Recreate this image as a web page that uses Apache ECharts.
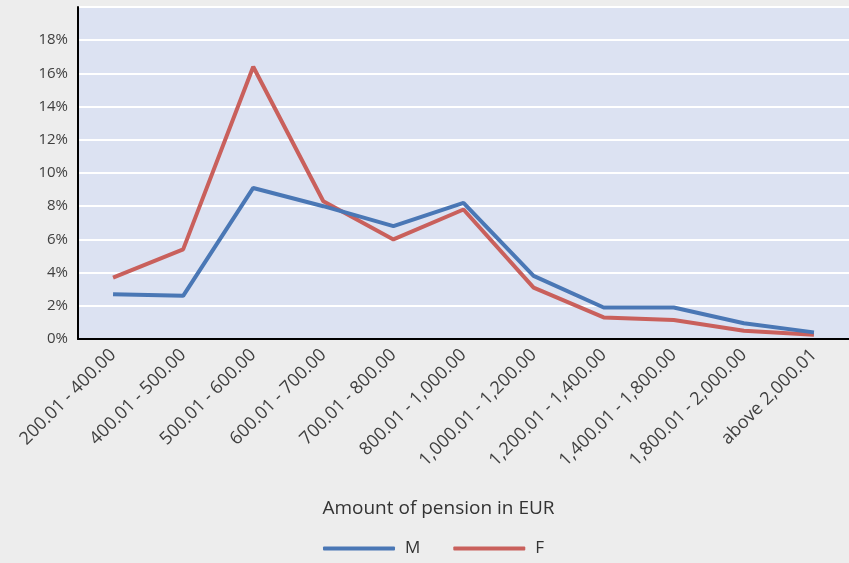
<!DOCTYPE html>
<html>
<head>
<meta charset="utf-8">
<script src="https://cdn.jsdelivr.net/npm/echarts@6/dist/echarts.min.js"></script>
<style>
  html, body { margin: 0; padding: 0; background: #ededed; }
  #chart { width: 849px; height: 563px; }
</style>
</head>
<body>
<div id="chart"></div>
<script>
const categories = ['200.01 - 400.00', '400.01 - 500.00', '500.01 - 600.00', '600.01 - 700.00',
  '700.01 - 800.00', '800.01 - 1,000.00', '1,000.01 - 1,200.00', '1,200.01 - 1,400.00',
  '1,400.01 - 1,800.00', '1,800.01 - 2,000.00', 'above 2,000.01']
const male = [2.7, 2.6, 9.1, 8.0, 6.8, 8.2, 3.8, 1.9, 1.9, 0.95, 0.4]
const female = [3.7, 5.4, 16.4, 8.3, 6.0, 7.8, 3.1, 1.3, 1.15, 0.5, 0.25]

const font = 'Open Sans'
const chart = echarts.init(document.getElementById('chart'))
chart.setOption({
  backgroundColor: '#ededed',
  animation: false,
  color: ['#4a77b5', '#c9605c'],
  grid: {
    left: 78, right: 0, top: 7, bottom: 224,
    show: true, backgroundColor: '#dce2f2', borderWidth: 0,
  },
  legend: {
    bottom: 1,
    left: 318,
    itemWidth: 72,
    itemHeight: 4,
    itemGap: 33,
    icon: 'roundRect',
    textStyle: { fontFamily: font, fontSize: 17, color: '#333', padding: [0, 0, 0, 5] },
    data: ['M', 'F'],
  },
  xAxis: {
    type: 'category',
    data: categories,
    boundaryGap: true,
    name: 'Amount of pension in EUR',
    nameLocation: 'middle',
    nameGap: 160,
    nameTextStyle: { fontFamily: font, fontSize: 19, color: '#333', padding: [0, 50, 0, 0] },
    axisLine: { lineStyle: { color: '#000', width: 2 } },
    axisTick: { show: false },
    axisLabel: { rotate: 45, fontFamily: font, fontSize: 18, color: '#404040', margin: 13, interval: 0 },
  },
  yAxis: {
    type: 'value',
    min: 0, max: 20, interval: 2,
    axisLine: { show: true, lineStyle: { color: '#000', width: 2 } },
    axisTick: { show: false },
    splitLine: { lineStyle: { color: '#fff', width: 2 } },
    axisLabel: {
      fontFamily: font, fontSize: 15, color: '#404040', margin: 10,
      formatter: v => (v === 20 ? '' : v + '%'),
    },
  },
  series: [
    { name: 'M', type: 'line', data: male, symbol: 'none', lineStyle: { width: 4 }, z: 3 },
    { name: 'F', type: 'line', data: female, symbol: 'none', lineStyle: { width: 4 }, z: 2 },
  ],
})
</script>
</body>
</html>
